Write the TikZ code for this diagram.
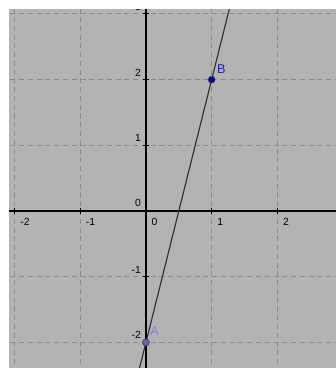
\documentclass[tikz,border=0pt]{standalone}
\usepackage{fontspec}
\setsansfont{Liberation Sans}
\usetikzlibrary{calc}

\definecolor{bggray}{RGB}{179,179,179}
\definecolor{gridgray}{RGB}{140,140,140}
\definecolor{linegray}{RGB}{50,50,50}
\definecolor{fillA}{RGB}{100,100,190}
\definecolor{textA}{RGB}{125,125,215}
\definecolor{fillB}{RGB}{0,0,170}
\definecolor{textB}{RGB}{30,30,210}

\begin{document}
\begin{tikzpicture}[
  ticklabel/.style={font=\sffamily\fontsize{4.5}{5}\selectfont, inner sep=0pt},
  ptlabel/.style={font=\sffamily\fontsize{5.5}{6}\selectfont, inner sep=0pt, anchor=south west},
  pointdot/.style={circle, draw=black!75, line width=0.3pt, inner sep=0pt, minimum size=0.105cm}
]
  \useasboundingbox (-2.222,-2.390) rectangle (2.892,3.212);
  \fill[white] (-2.222,-2.390) rectangle (2.892,3.212);
  \fill[bggray] (-2.085,-2.390) rectangle (2.892,3.075);

  \begin{scope}
    \clip (-2.085,-2.390) rectangle (2.892,3.075);
    \draw[gridgray, line width=0.45pt, dash pattern=on 2.2pt off 1.6pt] (-3,-3) grid (3,4);

    \draw[black, line width=0.5pt] (-2.2,0) -- (2.9,0);
    \draw[black, line width=0.5pt] (0,-2.4) -- (0,3.1);

    % ticks and numbers
    \foreach \x in {-2,-1,1,2} {
      \draw[black, line width=0.45pt] (\x,-0.05) -- (\x,0.05);
      \node[ticklabel, anchor=north west] (xl\x) at (\x+0.08,-0.1) {\x};
    }
    \foreach \y in {-2,-1,1,2,3} {
      \draw[black, line width=0.45pt] (-0.05,\y) -- (0.05,\y);
      \node[ticklabel, anchor=south east] (yl\y) at (-0.07,\y+0.045) {\y};
    }
    \node[ticklabel, anchor=north west] (xl0) at (0.08,-0.1) {0};
    \node[ticklabel, anchor=south east] (yl0) at (-0.07,0.06) {0};

    \coordinate (A) at (0,-2);
    \coordinate (B) at (1,2);
    \draw[linegray, line width=0.5pt] ($(A)!-0.2!(B)$) -- ($(A)!1.4!(B)$);
  \end{scope}

  \node[pointdot, fill=fillA] (ptA) at (A) {};
  \node[pointdot, fill=fillB] (ptB) at (B) {};
  \node[ptlabel, text=textA] (labA) at ($(A)+(0.06,0.1)$) {A};
  \node[ptlabel, text=textB] (labB) at ($(B)+(0.076,0.09)$) {B};
\end{tikzpicture}
\end{document}
